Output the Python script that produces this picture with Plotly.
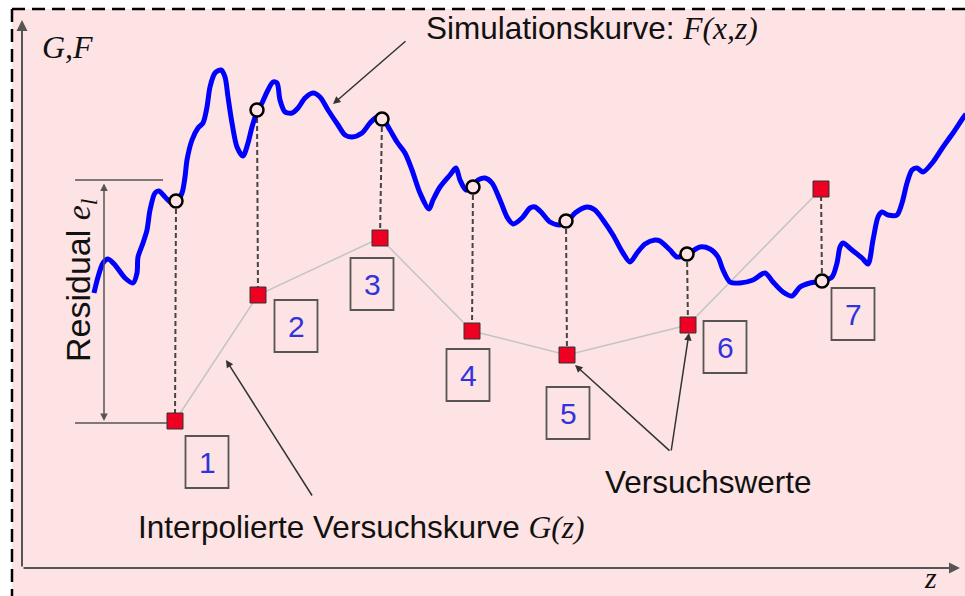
import plotly.graph_objects as go

# Simulation curve F(x,z) (schematic)
sim_z = [94, 98, 103, 108, 115, 125, 133, 137, 138, 143, 147, 150, 155, 159, 165, 172, 177, 182, 185, 187,
         192, 198, 203, 207, 210, 215, 221, 225, 228, 232, 237, 243, 248, 252, 257, 262, 267, 273, 277, 280,
         285, 292, 298, 305, 313, 320, 328, 338, 345, 352, 362, 370, 377, 383, 390, 397, 405, 412, 420, 429,
         433, 440, 450, 456, 460, 466, 473, 478, 485, 492, 500, 507, 513, 522, 530, 535, 542, 550, 560, 567,
         575, 587, 595, 603, 613, 623, 630, 637, 645, 655, 660, 670, 677, 688, 700, 710, 718, 723, 730, 740,
         753, 765, 773, 783, 792, 800, 810, 822, 832, 837, 840, 843, 852, 862, 868, 873, 878, 882, 888, 897,
         902, 907, 912, 917, 923, 933, 943, 953, 963, 966]
sim_F = [293, 277, 263, 259, 265, 278, 283, 273, 257, 243, 230, 210, 193, 191, 197, 203, 201, 193, 177, 160,
         140, 128, 123, 107, 87, 73, 70, 77, 97, 123, 147, 156, 143, 127, 112, 103, 92, 82, 83, 100,
         112, 113, 108, 98, 93, 97, 110, 125, 135, 137, 133, 123, 117, 119, 130, 142, 153, 170, 193, 209,
         200, 187, 175, 168, 180, 190, 187, 180, 178, 183, 200, 217, 224, 218, 208, 207, 213, 222, 225, 222,
         213, 207, 210, 220, 235, 253, 262, 253, 244, 240, 241, 250, 257, 254, 247, 249, 257, 270, 282, 283,
         280, 273, 282, 292, 296, 287, 283, 281, 277, 263, 247, 243, 250, 258, 264, 240, 217, 212, 215, 215,
         203, 183, 170, 168, 172, 162, 147, 133, 118, 114]

# Test points (Versuchswerte) and simulated values at the same z
test_labels = ["1", "2", "3", "4", "5", "6", "7"]
test_z = [175, 258, 380, 472, 567, 688, 821]
test_G = [421, 295, 238, 331, 355, 325, 189]
circle_z = [176, 257, 382, 473, 566, 687, 822]
circle_F = [201, 110, 119, 187, 221, 254, 281]

# Label box centres (layout)
box_cx = [207, 296, 372, 468, 568, 725, 853]
box_cy = [462, 326, 284, 375, 413, 347, 314]
BOX_W, BOX_H = 43, 52

PINK = "#fde3e3"
SANS = "Liberation Sans, Arial, sans-serif"
SERIF = "Liberation Serif, Times New Roman, serif"
SER = "<span style='font-family:Liberation Serif'><i>{}</i></span>"

fig = go.Figure()

# interpolated test curve G(z)
fig.add_trace(go.Scatter(x=test_z, y=test_G, mode="lines",
                         line=dict(color="#c4c4c4", width=1.5), hoverinfo="skip"))

# dashed residual connectors
dx, dy = [], []
for z1, f, z2, g in zip(circle_z, circle_F, test_z, test_G):
    dx += [z1, z2, None]
    dy += [f, g, None]
fig.add_trace(go.Scatter(x=dx, y=dy, mode="lines",
                         line=dict(color="#444444", width=2, dash="5px,3px"), hoverinfo="skip"))

# simulation curve
fig.add_trace(go.Scatter(x=sim_z, y=sim_F, mode="lines",
                         line=dict(color="#0000ff", width=5, shape="spline", smoothing=0.8),
                         hoverinfo="skip"))

# circles on simulation curve
fig.add_trace(go.Scatter(x=circle_z, y=circle_F, mode="markers",
                         marker=dict(symbol="circle", size=13, color=PINK,
                                     line=dict(color="black", width=2.5)), hoverinfo="skip"))

# test value squares
fig.add_trace(go.Scatter(x=test_z, y=test_G, mode="markers",
                         marker=dict(symbol="square", size=16, color="#ee0022",
                                     line=dict(color="#333333", width=1)), hoverinfo="skip"))

shapes = [
    dict(type="rect", x0=12, y0=9, x1=966, y1=597, fillcolor=PINK, line=dict(width=0), layer="below"),
    dict(type="line", x0=12, y0=9, x1=966, y1=9, line=dict(color="black", width=2.5, dash="13px,7px")),
    dict(type="line", x0=12, y0=9, x1=12, y1=597, line=dict(color="black", width=2.5, dash="13px,7px")),
    # residual bracket
    dict(type="line", x0=75, y0=180, x1=163, y1=180, line=dict(color="#555555", width=1.5)),
    dict(type="line", x0=75, y0=423, x1=167, y1=423, line=dict(color="#555555", width=1.5)),
]
for cx, cy in zip(box_cx, box_cy):
    shapes.append(dict(type="rect", x0=cx - BOX_W / 2, x1=cx + BOX_W / 2,
                       y0=cy - BOX_H / 2, y1=cy + BOX_H / 2,
                       line=dict(color="#555555", width=1.8)))

ann = []

def arrow(x, y, ax, ay, color="#333333", width=1.5, side="end", size=1.0):
    ann.append(dict(x=x, y=y, ax=ax, ay=ay, xref="x", yref="y", axref="x", ayref="y",
                    text="", showarrow=True, arrowhead=2, arrowsize=size, arrowwidth=width,
                    arrowcolor=color, arrowside=side, standoff=0, startstandoff=0))

# axes
arrow(22, 20, 22, 568, color="#555555", width=2, size=1.1)
arrow(960, 568, 22, 568, color="#555555", width=2, size=1.1)
# residual double arrow
arrow(104, 421, 104, 182, color="#555555", width=1.5, side="end+start")
# annotation arrows
arrow(333, 104, 407, 40)
arrow(226, 360, 313, 497)
arrow(575, 365, 671, 452)
arrow(689, 333, 671, 452)

for lab, cx, cy in zip(test_labels, box_cx, box_cy):
    ann.append(dict(x=cx, y=cy, xref="x", yref="y", text=lab, showarrow=False,
                    font=dict(family=SANS, size=30, color="#3333dd")))

def text(x, y, t, anchor="left", size=31.5, family=SANS, angle=0, yanchor="middle"):
    ann.append(dict(x=x, y=y, xref="x", yref="y", text=t, showarrow=False, xanchor=anchor,
                    yanchor=yanchor, textangle=angle,
                    font=dict(family=family, size=size, color="#111111")))

text(424, 28, "Simulationskurve: " + SER.format("F(x,z)"))
text(136, 527, "Interpolierte Versuchskurve " + SER.format("G(z)"))
text(603, 482, "Versuchswerte")
text(40, 47, "<i>G,F</i>", family=SERIF, size=32)
text(930, 596, "<i>z</i>", anchor="center", family=SERIF, size=30, yanchor="bottom")
text(80, 280, "Residual " + "<span style='font-family:Liberation Serif'><i>e<sub>l</sub></i></span>",
     anchor="center", angle=-90, size=34)

fig.update_layout(
    width=965, height=596, margin=dict(l=0, r=0, t=0, b=0),
    paper_bgcolor="white", plot_bgcolor="white", showlegend=False,
    xaxis=dict(range=[0, 965], visible=False, fixedrange=True),
    yaxis=dict(range=[596, 0], visible=False, fixedrange=True),
    shapes=shapes, annotations=ann,
)

fig.write_html("out.html", config={"displayModeBar": False},
               post_script="document.body.style.margin='0';document.body.style.padding='0';"
                           "document.body.style.overflow='hidden';")
